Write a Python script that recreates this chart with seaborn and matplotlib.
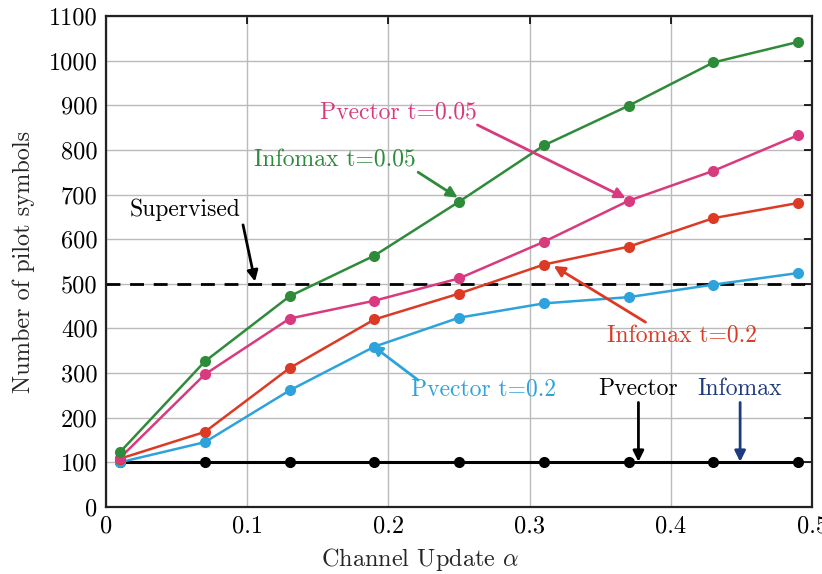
import matplotlib
matplotlib.use("Agg")
import matplotlib.pyplot as plt
import seaborn as sns
import pandas as pd
import numpy as np

alpha = [0.01, 0.07, 0.13, 0.19, 0.25, 0.31, 0.37, 0.43, 0.49]
infomax_005 = [123, 326, 472, 563, 684, 810, 899, 996, 1042]
pvector_005 = [110, 297, 422, 462, 512, 594, 686, 753, 833]
infomax_02 = [108, 168, 311, 420, 478, 543, 583, 647, 681]
pvector_02 = [100, 145, 261, 359, 424, 456, 470, 498, 524]
baseline = [100, 100, 100, 100, 100, 100, 100, 100, 100]
supervised = 500

xticks = [0, 0.1, 0.2, 0.3, 0.4, 0.5]
yticks = list(range(0, 1101, 100))

sns.set_theme(style="white")
plt.rcParams['font.family'] = ['cmr10', 'DejaVu Serif']
plt.rcParams['mathtext.fontset'] = 'cm'
plt.rcParams['axes.formatter.use_mathtext'] = True

fig, ax = plt.subplots(figsize=(8.22, 5.74), dpi=100)
fig.subplots_adjust(left=0.129, right=0.988, top=0.972, bottom=0.117)

c_green = "#2e8b3a"
c_pink = "#d93a7e"
c_red = "#dd3a25"
c_blue = "#2ea3db"
c_navy = "#1e3a80"

series = [
    (infomax_005, c_green),
    (pvector_005, c_pink),
    (infomax_02, c_red),
    (pvector_02, c_blue),
]
ax.axhline(supervised, color="black", ls=(0, (5, 3.5)), lw=2, zorder=2)
sns.lineplot(x=alpha, y=baseline, color="black", marker="o", markersize=8,
             markeredgewidth=0, linewidth=2.2, ax=ax, zorder=3)
for vals, col in series[::-1]:
    sns.lineplot(x=alpha, y=vals, color=col, marker="o", markersize=8,
                 markeredgewidth=0, linewidth=1.8, ax=ax, zorder=4)

ax.set_xlim(0, 0.5)
ax.set_ylim(0, 1100)
ax.set_xticks(xticks)
ax.set_xticklabels(["0", "0.1", "0.2", "0.3", "0.4", "0.5"])
ax.set_yticks(yticks)
ax.set_yticklabels([str(v) for v in yticks])
ax.grid(True, color="#bbbbbb", lw=1)
ax.tick_params(direction="in", length=6, width=1.2, top=True, right=True,
               labelsize=17.5, colors="black", pad=6)
for s in ax.spines.values():
    s.set_color("#222222")
    s.set_linewidth(1.6)
ax.set_xlabel(r"Channel Update $\alpha$", fontsize=17.5, labelpad=6, x=0.445)
ax.set_ylabel("Number of pilot symbols", fontsize=17.5, labelpad=10)

def arrow(tail, head, col):
    ax.annotate("", xy=head, xytext=tail,
                arrowprops=dict(arrowstyle="-|>", color=col, lw=2,
                                mutation_scale=16, shrinkA=0, shrinkB=0),
                zorder=6)

fs = 17
ax.text(0.162, 777, "Infomax t=0.05", color=c_green, fontsize=fs, ha="center", va="center")
arrow((0.221, 750), (0.249, 693), c_green)
ax.text(0.207, 885, "Pvector t=0.05", color=c_pink, fontsize=fs, ha="center", va="center")
arrow((0.263, 856), (0.368, 692), c_pink)
ax.text(0.056, 665, "Supervised", color="black", fontsize=fs, ha="center", va="center")
arrow((0.097, 632), (0.1055, 505), "black")
ax.text(0.408, 381, "Infomax t=0.2", color=c_red, fontsize=fs, ha="center", va="center")
arrow((0.382, 414), (0.317, 540), c_red)
ax.text(0.267, 264, "Pvector t=0.2", color=c_blue, fontsize=fs, ha="center", va="center")
arrow((0.221, 284), (0.188, 363), c_blue)
ax.text(0.377, 264, "Pvector", color="black", fontsize=fs, ha="center", va="center")
arrow((0.377, 234), (0.377, 101), "black")
ax.text(0.449, 264, "Infomax", color=c_navy, fontsize=fs, ha="center", va="center")
arrow((0.449, 234), (0.449, 101), c_navy)

fig.savefig("out.png", dpi=100)
